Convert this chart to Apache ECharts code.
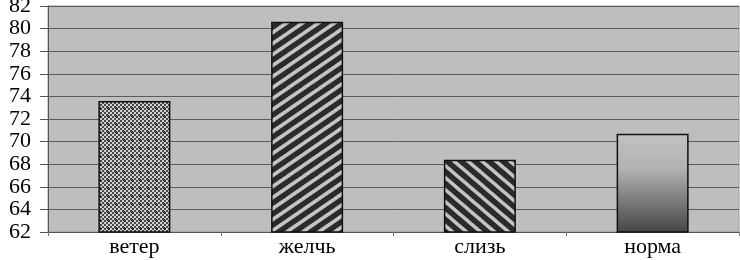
<!DOCTYPE html>
<html><head><meta charset="utf-8">
<script src="https://cdn.jsdelivr.net/npm/echarts@6/dist/echarts.min.js"></script>
<style>html,body{margin:0;padding:0;background:#fff}#c{width:740px;height:260px}</style>
</head><body><div id="c"></div>
<script>
const categories = ['ветер', 'желчь', 'слизь', 'норма'];
const values = [73.6, 80.6, 68.4, 70.7];
const yTicks = [62, 64, 66, 68, 70, 72, 74, 76, 78, 80, 82];

function tile(w, h, draw) {
  const c = document.createElement('canvas');
  c.width = w; c.height = h;
  draw(c.getContext('2d'), w, h);
  return c;
}
const checker = tile(8, 8, (g, w, h) => {
  g.fillStyle = '#d0d0d0'; g.fillRect(0, 0, w, h);
  g.fillStyle = '#484848';
  for (let y = 0; y < h; y += 2) for (let x = 0; x < w; x += 2)
    if (((x + y) / 2) % 2 === 0) g.fillRect(x, y, 2, 2);
  g.fillStyle = '#222';
  g.fillRect(4, 3, 1, 3); g.fillRect(3, 4, 3, 1);
});
function stripes(w, h, up) {
  return tile(w, h, (g) => {
    g.fillStyle = '#2b2b2b'; g.fillRect(0, 0, w, h);
    g.strokeStyle = '#c4c4c4'; g.lineWidth = 3.6; g.lineCap = 'square';
    for (let n = -1; n <= 2; n++) {
      g.beginPath();
      if (up) { g.moveTo((n - 1) * w, h); g.lineTo((n - 1) * w + 2 * w, -h); }
      else { g.moveTo((n - 1) * w, 0); g.lineTo((n - 1) * w + 2 * w, 2 * h); }
      g.stroke();
    }
  });
}
const upStripe = stripes(16, 11, true);
const downStripe = stripes(14, 12, false);

const fills = [
  { image: checker, repeat: 'repeat' },
  { image: upStripe, repeat: 'repeat' },
  { image: downStripe, repeat: 'repeat' },
  { type: 'linear', x: 0, y: 0, x2: 0, y2: 1, colorStops: [
    { offset: 0, color: '#c2c2c2' }, { offset: 0.35, color: '#b2b2b2' }, { offset: 1, color: '#454545' }] }
];

const chart = echarts.init(document.getElementById('c'), null, { renderer: 'canvas' });
chart.setOption({
  animation: false,
  grid: { left: 48, right: 1, top: 6, bottom: 28, show: true, backgroundColor: '#bebebe', borderColor: '#9a9a9a', borderWidth: 1, containLabel: false, outerBoundsMode: 'none' },
  xAxis: {
    type: 'category', data: categories,
    axisLine: { show: true, lineStyle: { color: '#555', width: 1 } },
    axisTick: { show: true, length: 4, alignWithLabel: false, lineStyle: { color: '#777' } },
    axisLabel: { fontFamily: 'Liberation Serif', fontSize: 22, color: '#000', margin: 4 }
  },
  yAxis: {
    type: 'value', min: yTicks[0], max: yTicks[yTicks.length - 1], interval: 2,
    axisLine: { show: true, lineStyle: { color: '#555', width: 1 } },
    axisTick: { show: true, length: 8, lineStyle: { color: '#555' } },
    axisLabel: { fontFamily: 'Liberation Serif', fontSize: 22, color: '#000', margin: 17 },
    splitLine: { show: true, lineStyle: { color: '#5c5c5c', width: 1 } }
  },
  series: [{
    type: 'bar', barWidth: 72,
    data: values.map((v, i) => ({ value: v, itemStyle: { color: fills[i] } })),
    itemStyle: { borderColor: '#111', borderWidth: 1.5 }
  }]
});
</script></body></html>
